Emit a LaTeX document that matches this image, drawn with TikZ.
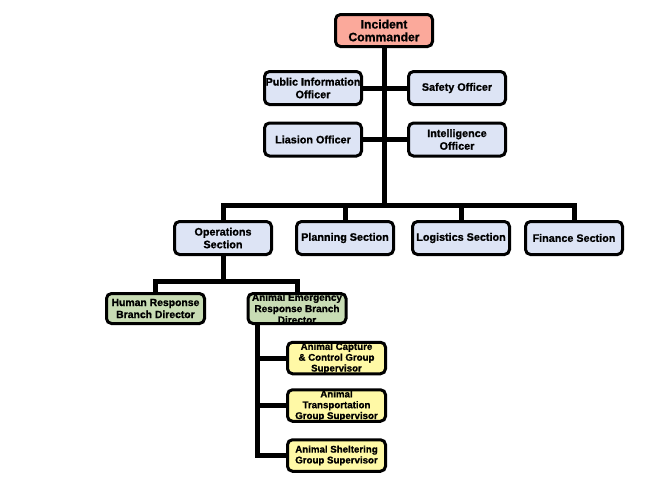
\documentclass[tikz,border=0pt]{standalone}
\usepackage{fontspec}
\setmainfont{Liberation Sans}[BoldFeatures={FakeBold=1}]
\usepackage{xcolor}
\definecolor{cmdpink}{HTML}{FBA99B}
\definecolor{staffblue}{HTML}{DDE4F5}
\definecolor{branchgreen}{HTML}{C8DCB4}
\definecolor{groupyellow}{HTML}{FFF9A6}
\tikzset{
  cmdbox/.style={
    rounded corners=5pt,
    draw=black,
    fill=cmdpink,
    line width=3pt,
    minimum width=97pt,
    minimum height=32pt,
    inner xsep=0pt,
    inner ysep=1pt,
    align=center,
    font=\bfseries\fontsize{12.2}{12.8}\selectfont
  },
  staffbox/.style={
    rounded corners=5pt,
    draw=black,
    fill=staffblue,
    line width=3pt,
    minimum width=97pt,
    minimum height=33pt,
    inner xsep=0pt,
    inner ysep=1pt,
    align=center,
    font=\bfseries\fontsize{10.8}{12.7}\selectfont
  },
  branchbox/.style={
    rounded corners=5pt,
    draw=black,
    fill=branchgreen,
    line width=3pt,
    minimum width=98pt,
    minimum height=30pt,
    inner xsep=0pt,
    inner ysep=0pt,
    align=center,
    font=\bfseries\fontsize{10.4}{12}\selectfont
  },
  groupbox/.style={
    rounded corners=5pt,
    draw=black,
    fill=groupyellow,
    line width=3pt,
    minimum width=98pt,
    minimum height=31.5pt,
    inner xsep=0pt,
    inner ysep=0pt,
    align=center,
    font=\bfseries\fontsize{9.7}{10.8}\selectfont
  },
  threelines/.style={
    text height=29pt,
    text depth=2pt
  },
  link/.style={
    line width=5pt,
    draw=black
  }
}
\begin{document}
\begin{tikzpicture}[x=1pt,y=-1pt]
\useasboundingbox (0,0) rectangle (650,488);
% command and staff
\node[cmdbox] (ic) at (384,30.5) {Incident\\Commander};
\node[staffbox] (pio) at (313,88) {Public Information\\Officer};
\node[staffbox] (safety) at (457,88) {Safety Officer};
\node[staffbox] (liaison) at (313,139.5) {Liasion Officer};
\node[staffbox] (intel) at (457,139.5) {Intelligence\\Officer};
% sections
\node[staffbox] (ops) at (223,238) {Operations\\Section};
\node[staffbox] (plan) at (345,238) {Planning Section};
\node[staffbox] (logi) at (461,238) {Logistics Section};
\node[staffbox] (fin) at (574,238) {Finance Section};
% branches
\node[branchbox] (human) at (155.5,308.5) {Human Response\\Branch Director};
\node[branchbox, threelines, text height=29.8pt, text depth=0pt, font=\bfseries\fontsize{10}{11.3}\selectfont] (aerb) at (297,308.5) {Animal Emergency\\Response Branch\\Director};
% groups
\node[groupbox, threelines] (capture) at (336.5,358) {Animal Capture\\\& Control Group\\Supervisor};
\node[groupbox, threelines] (transport) at (336.5,405.5) {Animal\\Transportation\\Group Supervisor};
\node[groupbox] (shelter) at (336.5,455.5) {Animal Sheltering\\Group Supervisor};

\coordinate (bar) at (384,205);
\coordinate (opsbar) at (223,281);
\coordinate (spine) at ([xshift=-40pt]aerb.south);

\draw[link] (ic.south) -- (ic.south |- bar);
\draw[link] (pio.east) -- (safety.west);
\draw[link] (liaison.east) -- (intel.west);
\draw[link] (ops.north) -- (ops.north |- bar) -- (fin.north |- bar) -- (fin.north);
\draw[link] (plan.north) -- (plan.north |- bar);
\draw[link] (logi.north) -- (logi.north |- bar);
\draw[link] (ops.south) -- (opsbar);
\draw[link] (human.north) -- (human.north |- opsbar) -- (aerb.north |- opsbar) -- (aerb.north);
\draw[link] (spine) -- (spine |- shelter.west) -- (shelter.west);
\draw[link] (spine |- capture.west) -- (capture.west);
\draw[link] (spine |- transport.west) -- (transport.west);
\end{tikzpicture}
\end{document}
